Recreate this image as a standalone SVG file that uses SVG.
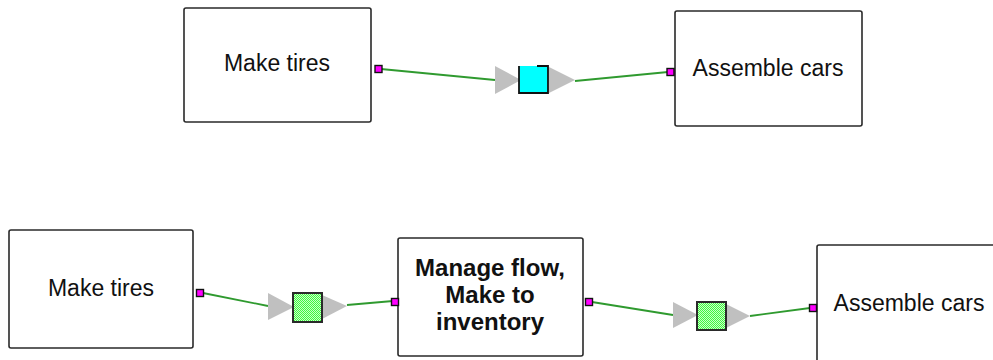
<svg xmlns="http://www.w3.org/2000/svg" width="993" height="360" viewBox="0 0 993 360">
  <style>
    .box { fill: #ffffff; stroke: #2a2a2a; stroke-width: 1.6; }
    .lbl { font-family: "Liberation Sans", Arial, sans-serif; font-size: 23px; fill: #111111; text-anchor: middle; }
    .bold { font-weight: bold; font-size: 24px; }
    .flow { fill: none; stroke: #2f9a2f; stroke-width: 1.8; }
    .port { fill: #ff00ff; stroke: #111111; stroke-width: 1.4; }
    .tri { fill: #c0c0c0; }
    .buf { fill: url(#dither); stroke: #2a2a2a; stroke-width: 2; }
  </style>
  <defs>
    <pattern id="dither" width="2" height="2" patternUnits="userSpaceOnUse">
      <rect width="2" height="2" fill="#c8ffc8"/>
      <rect width="1" height="1" fill="#40f840"/>
      <rect x="1" y="1" width="1" height="1" fill="#40f840"/>
    </pattern>
  </defs>

  <!-- upper chain: tires feed assembly directly -->
  <g id="tires-top">
    <rect class="box" x="184" y="8" width="187" height="114" rx="2"/>
    <text class="lbl" x="277" y="71">Make tires</text>
  </g>
  <g id="cars-top">
    <rect class="box" x="675" y="11" width="187" height="115" rx="2"/>
    <text class="lbl" x="768" y="76">Assemble cars</text>
  </g>

  <!-- lower chain: tires, managed inventory, assembly -->
  <g id="tires-bottom">
    <rect class="box" x="9" y="230" width="184" height="118" rx="2"/>
    <text class="lbl" x="101" y="296">Make tires</text>
  </g>
  <g id="inventory">
    <rect class="box" x="398" y="238" width="185" height="118" rx="2"/>
    <text class="lbl bold" x="490" y="276">Manage flow,</text>
    <text class="lbl bold" x="490" y="303">Make to</text>
    <text class="lbl bold" x="490" y="330">inventory</text>
  </g>
  <g id="cars-bottom">
    <rect class="box" x="817" y="245" width="187" height="118" rx="2"/>
    <text class="lbl" x="909" y="311">Assemble cars</text>
  </g>

  <g id="connectors">
    <!-- top link -->
    <polyline class="flow" points="381,69 495,80"/>
    <polygon class="tri" points="495,66 495,94 521,80"/>
    <polygon class="tri" points="549,67 549,93 575,80"/>
    <polyline class="flow" points="575,81 668,72"/>
    <rect x="519" y="66" width="29" height="27" fill="#00ffff"/>
    <path d="M519,66 V93 H548 V66 H537" fill="none" stroke="#111111" stroke-width="1.8"/>
    <rect class="port" x="375" y="65.5" width="7" height="7"/>
    <rect class="port" x="667" y="68.5" width="7" height="7"/>

    <!-- lower link 1 -->
    <polyline class="flow" points="203,293 268,306"/>
    <polygon class="tri" points="268,293 268,320 294,307"/>
    <polygon class="tri" points="322,295 322,319 347,306"/>
    <polyline class="flow" points="347,305 393,301"/>
    <rect class="buf" x="293" y="293" width="29" height="29"/>
    <rect class="port" x="196.5" y="289.5" width="7" height="7"/>
    <rect class="port" x="391.5" y="298.5" width="7" height="7"/>

    <!-- lower link 2 -->
    <polyline class="flow" points="592,302 673,315"/>
    <polygon class="tri" points="673,302 673,328 698,315"/>
    <polygon class="tri" points="726,304 726,328 750,316"/>
    <polyline class="flow" points="750,316 810,308"/>
    <rect class="buf" x="697" y="302" width="29" height="28"/>
    <rect class="port" x="585.5" y="298.5" width="7" height="7"/>
    <rect class="port" x="809.5" y="304.5" width="7" height="7"/>
  </g>
</svg>
